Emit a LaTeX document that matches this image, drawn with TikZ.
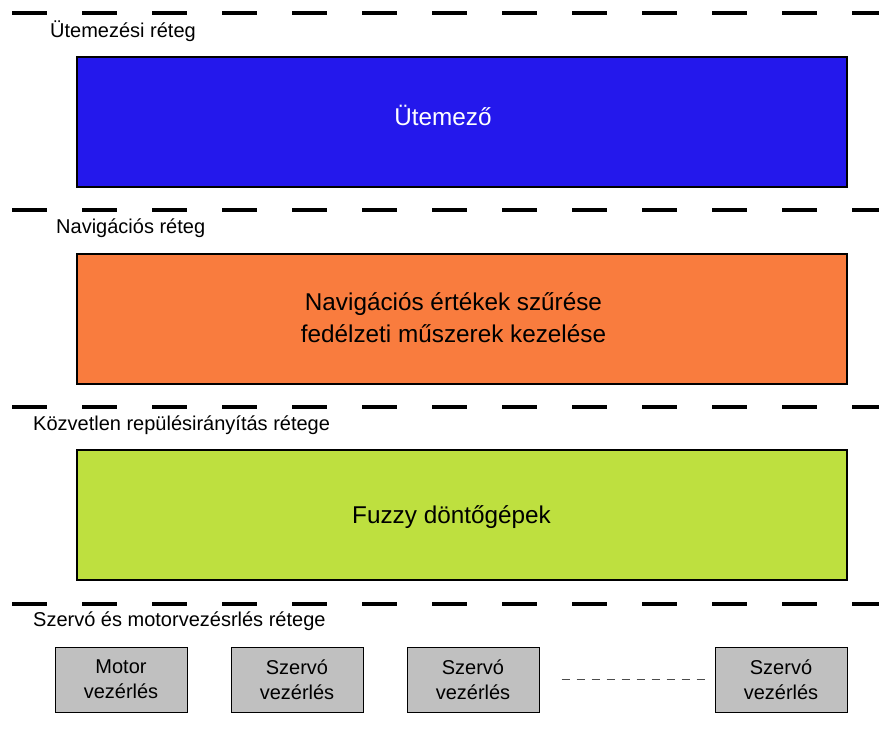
\documentclass[tikz,border=0pt]{standalone}
\usepackage{fontspec}
\setmainfont{Liberation Sans}
\usetikzlibrary{calc}
\definecolor{bluebox}{HTML}{2418EC}
\definecolor{orangebox}{HTML}{F97C3E}
\definecolor{greenbox}{HTML}{BEE03F}
\definecolor{graybox}{HTML}{C0C0C0}
\begin{document}
\begin{tikzpicture}[x=1pt,y=-1pt,
  layerline/.style={line width=4.5pt, dash pattern=on 35pt off 35pt},
  layerlabel/.style={anchor=base west, inner sep=0pt, font=\fontsize{20}{24}\selectfont},
  bigbox/.style={draw=black, line width=2pt, minimum width=770pt, minimum height=130pt},
  bigtext/.style={align=center, inner sep=0pt, font=\fontsize{24.3}{32}\selectfont},
  smallbox/.style={draw=black, line width=1pt, fill=graybox, minimum width=132pt, minimum height=65pt,
    align=center, font=\fontsize{20}{25}\selectfont},
  dotsline/.style={draw=black!70, line width=1.2pt, dash pattern=on 8pt off 7pt}
]
\useasboundingbox (0,0) rectangle (879,731);
\fill[white] (0,0) rectangle (879,731);

% layer separators
\foreach \yy in {13,210,407,604} {
  \draw[layerline] (12,\yy) -- (879,\yy);
}

% layer labels
\node[layerlabel] (l1) at (50,37) {Ütemezési réteg};
\node[layerlabel] (l2) at (56,233) {Navigációs réteg};
\node[layerlabel] (l3) at (33,430) {Közvetlen repülésirányítás rétege};
\node[layerlabel] (l4) at (33,626) {Szervó és motorvezésrlés rétege};

% big boxes
\node[bigbox, fill=bluebox] (sched) at (462,122) {};
\node[bigbox, fill=orangebox] (nav) at (462,319) {};
\node[bigbox, fill=greenbox] (fuzzy) at (462,515) {};
\node[bigtext, text=white] (schedt) at (443,115) {Ütemező};
\node[bigtext] (navt) at (453.5,318) {Navigációs értékek szűrése\\fedélzeti műszerek kezelése};
\node[bigtext] (fuzzyt) at (451.5,517) {Fuzzy döntőgépek};

% small boxes
\node[smallbox] (s1) at (121,679.5) {Motor\\vezérlés};
\node[smallbox] (s2) at (297,679.5) {Szervó\\vezérlés};
\node[smallbox] (s3) at (473,679.5) {Szervó\\vezérlés};
\node[smallbox] (s4) at (781,679.5) {Szervó\\vezérlés};

\draw[dotsline, shorten <=22pt, shorten >=9pt] (s3.east) -- (s4.west);
\end{tikzpicture}
\end{document}
